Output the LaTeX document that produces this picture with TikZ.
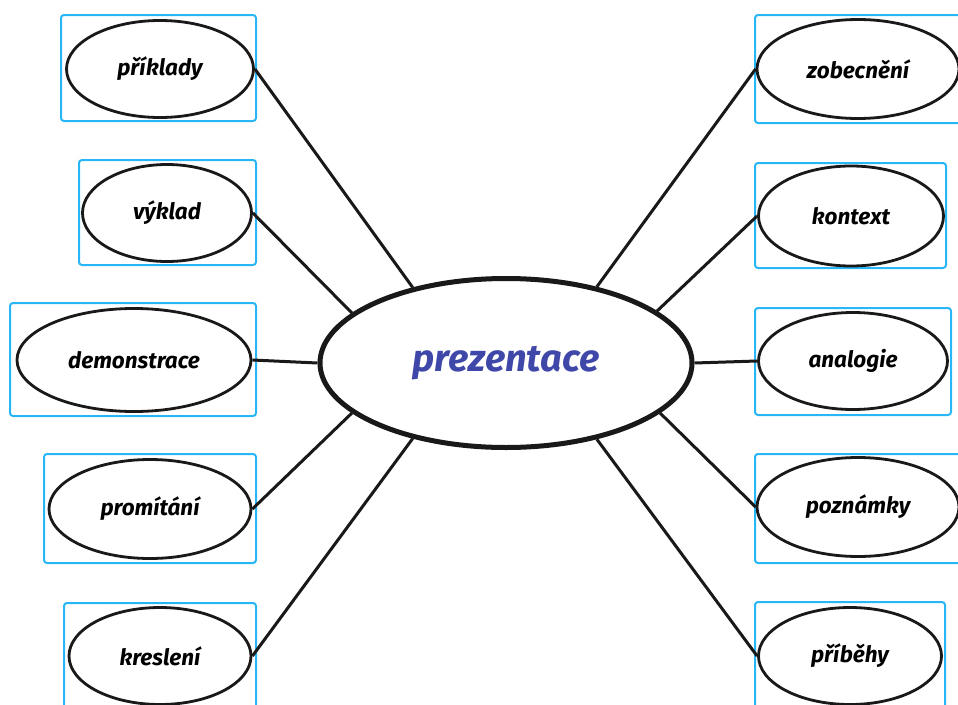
\documentclass[tikz,border=0pt]{standalone}
\usepackage{fontspec}
\setmainfont{Fira Sans}
\usetikzlibrary{shapes.geometric}
\definecolor{boxblue}{RGB}{41,182,246}
\definecolor{titleblue}{RGB}{63,72,168}
\tikzset{
  idea/.style={ellipse, draw=black!90, line width=2.8pt, inner sep=0pt,
    font=\bfseries\itshape\fontsize{22.5}{22.5}\selectfont},
  bluebox/.style={draw=boxblue, line width=2pt, rounded corners=3pt},
  link/.style={draw=black!90, line width=3pt},
}
\begin{document}
\begin{tikzpicture}[x=1pt,y=-1pt]
  \useasboundingbox (0,0) rectangle (958,704);
  \clip (0,0) rectangle (958,704);
  % frames
  \draw [bluebox]
    (61,15) rectangle (256,121)
    (79,160) rectangle (256,265)
    (10,303) rectangle (256,416)
    (44,454) rectangle (256,563)
    (64,603) rectangle (256,712)
    (755,15) rectangle (964,123)
    (755,163) rectangle (946,268)
    (755,308) rectangle (951,415)
    (755,454) rectangle (964,563)
    (755,602) rectangle (945,712);
  % centre
  \node [ellipse, draw=black!90, line width=5pt, inner sep=0pt,
    minimum width=372pt, minimum height=169pt, text=titleblue,
    font=\bfseries\itshape\fontsize{38}{38}\selectfont]
    (prez) at (506,363) {prezentace};
  % left
  \node [idea, minimum width=187pt, minimum height=97pt] (priklady) at (160,69) {příklady};
  \node [idea, minimum width=169pt, minimum height=97pt] (vyklad) at (167,213) {výklad};
  \node [idea, minimum width=234pt, minimum height=103pt] (demonstrace) at (134,360) {demonstrace};
  \node [idea, minimum width=202pt, minimum height=99pt] (promitani) at (150,509) {promítání};
  \node [idea, minimum width=182pt, minimum height=97pt] (kresleni) at (160,656) {kreslení};
  % right
  \node [idea, minimum width=202pt, minimum height=99pt] (zobecneni) at (858,69) {zobecnění};
  \node [idea, minimum width=185pt, minimum height=100pt] (kontext) at (851,216) {kontext};
  \node [idea, minimum width=189pt, minimum height=97pt] (analogie) at (853,361) {analogie};
  \node [idea, minimum width=202pt, minimum height=99pt] (poznamky) at (858,507) {poznámky};
  \node [idea, minimum width=183pt, minimum height=97pt] (pribehy) at (850,656) {příběhy};
  % links
  \draw [link]
    (priklady.east) -- (prez.141)
    (vyklad.east) -- (prez.162)
    (demonstrace.east) -- (prez.180)
    (promitani.east) -- (prez.198)
    (kresleni.east) -- (prez.219)
    (zobecneni.west) -- (prez.40)
    (kontext.west) -- (prez.19)
    (analogie.west) -- (prez.0)
    (poznamky.west) -- (prez.-18)
    (pribehy.west) -- (prez.-40);
\end{tikzpicture}
\end{document}
